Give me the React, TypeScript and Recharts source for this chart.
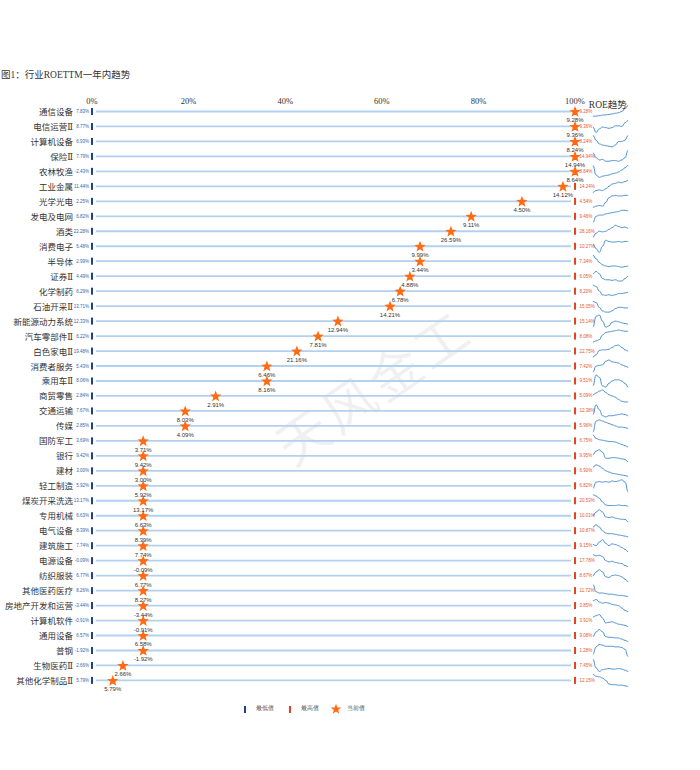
// Industry ROE TTM: one-year percentile position, min/max range and trend sparkline

import React from 'react';
import { Bar, ComposedChart, Line, XAxis, YAxis } from 'recharts';

const industries = [
  '通信设备', '电信运营Ⅱ', '计算机设备', '保险Ⅱ', '农林牧渔', '工业金属', '光学光电', '发电及电网',
  '酒类', '消费电子', '半导体', '证券Ⅱ', '化学制药', '石油开采Ⅱ', '新能源动力系统', '汽车零部件Ⅱ',
  '白色家电Ⅱ', '消费者服务', '乘用车Ⅱ', '商贸零售', '交通运输', '传媒', '国防军工', '银行', '建材',
  '轻工制造', '煤炭开采洗选', '专用机械', '电气设备', '建筑施工', '电源设备', '纺织服装', '其他医药医疗',
  '房地产开发和运营', '计算机软件', '通用设备', '普钢', '生物医药Ⅱ', '其他化学制品Ⅱ',
];

// ROE TTM within the last year (%)
const minRoe = [
  7.83, 8.77, 6.93, 7.79, -2.43, 11.44, 2.25, 6.82, 22.28, 6.48, 2.99, 4.49, 6.29, 13.71, 12.33, 6.22,
  19.48, 5.43, 8.06, 2.84, 7.67, 2.85, 3.69, 9.42, 3.0, 5.92, 13.17, 6.63, 8.39, 7.74, -0.09, 6.77, 8.26,
  -3.44, -0.91, 6.57, -1.92, 2.66, 5.79,
];
const maxRoe = [
  9.28, 9.36, 8.24, 14.94, 8.64, 14.24, 4.54, 9.46, 28.16, 10.27, 7.34, 6.05, 8.2, 15.05, 15.14, 8.08,
  22.75, 7.42, 9.51, 5.09, 12.38, 5.96, 6.75, 9.95, 6.9, 6.82, 20.53, 10.01, 10.87, 9.15, 17.78, 8.67, 11.72,
  3.85, 3.91, 9.08, 1.28, 7.45, 12.15,
];
const curRoe = [
  9.28, 9.36, 8.24, 14.94, 8.64, 14.12, 4.5, 9.11, 26.59, 9.99, 3.44, 4.88, 6.78, 14.21, 12.94, 7.81,
  21.16, 6.46, 8.16, 2.91, 8.03, 4.09, 3.71, 9.42, 3.0, 5.92, 13.17, 6.63, 8.39, 7.74, -0.09, 6.77, 8.27,
  -3.44, -0.91, 6.58, -1.92, 2.66, 5.79,
];
// percentile of the current value (0-100)
const pctRank = [
  100, 100, 100, 100, 100, 97.5, 89, 78.5, 74.3, 67.9, 67.9, 65.8, 63.8, 61.7, 50.9, 46.8, 42.4, 36.2,
  36.2, 25.6, 19.3, 19.3, 10.6, 10.6, 10.6, 10.6, 10.6, 10.6, 10.6, 10.6, 10.6, 10.6, 10.6, 10.6, 10.6,
  10.6, 10.6, 6.4, 4.3,
];

// trend shapes, scaled 0 (low) to 1 (high)
const trends = [
  [0.1, 0.12, 0.15, 0.2, 0.22, 0.25, 0.3, 0.35, 0.4, 0.5, 0.75, 1.0],
  [0.45, 0.0, 0.3, 0.45, 0.4, 0.35, 0.4, 0.55, 0.55, 0.5, 0.8, 1.0],
  [1.0, 0.6, 0.3, 0.2, 0.15, 0.1, 0.05, 0.2, 0.5, 0.5, 0.6, 1.0],
  [0.8, 0.4, 0.2, 0.25, 0.1, 0.1, 0.15, 0.15, 0.1, 0.2, 0.4, 1.0],
  [1.0, 0.2, 0.0, 0.1, 0.15, 0.2, 0.3, 0.35, 0.45, 0.6, 0.8, 1.0],
  [0.0, 0.15, 0.2, 0.15, 0.3, 0.5, 0.7, 0.75, 0.85, 0.8, 0.9, 1.0],
  [0.0, 0.1, 0.15, 0.1, 0.4, 0.8, 0.95, 1.0, 0.95, 0.95, 1.0, 1.0],
  [0.0, 0.5, 0.6, 0.6, 0.7, 0.75, 0.8, 0.85, 0.9, 1.0, 1.0, 0.95],
  [0.0, 0.35, 0.5, 0.45, 0.5, 0.65, 0.8, 1.0, 0.9, 0.8, 0.85, 0.75],
  [0.7, 0.3, 0.0, 0.5, 1.0, 0.9, 0.85, 0.85, 0.9, 0.85, 0.9, 0.9],
  [1.0, 0.7, 0.4, 0.2, 0.1, 0.05, 0.1, 0.1, 0.05, 0.0, 0.05, 0.1],
  [0.7, 0.9, 0.7, 0.3, 0.2, 0.2, 0.15, 0.2, 0.1, 0.1, 0.3, 0.5],
  [1.0, 0.9, 0.5, 0.2, 0.15, 0.2, 0.15, 0.2, 0.3, 0.3, 0.35, 0.4],
  [0.9, 0.8, 0.4, 0.1, 0.0, 0.0, 0.1, 0.3, 0.4, 0.4, 0.35, 0.35],
  [0.0, 0.9, 1.0, 0.5, 0.0, 0.1, 0.4, 0.5, 0.45, 0.35, 0.3, 0.25],
  [0.0, 0.1, 0.2, 0.6, 0.8, 0.85, 0.9, 0.95, 1.0, 0.95, 0.9, 0.9],
  [0.0, 0.2, 0.55, 0.6, 0.6, 0.65, 0.8, 0.95, 1.0, 0.8, 0.6, 0.5],
  [0.0, 0.5, 0.55, 0.6, 0.9, 1.0, 0.85, 0.8, 0.75, 0.6, 0.5, 0.4],
  [0.1, 1.0, 0.8, 0.1, 0.0, 0.3, 0.5, 0.6, 0.6, 0.5, 0.3, 0.0],
  [0.6, 0.75, 0.9, 1.0, 0.8, 0.6, 0.5, 0.4, 0.2, 0.05, 0.0, 0.0],
  [0.2, 1.0, 0.6, 0.1, 0.0, 0.1, 0.1, 0.15, 0.2, 0.25, 0.2, 0.1],
  [0.0, 0.9, 1.0, 0.9, 0.8, 0.7, 0.6, 0.5, 0.4, 0.4, 0.35, 0.3],
  [1.0, 0.7, 0.6, 0.55, 0.5, 0.45, 0.45, 0.4, 0.3, 0.2, 0.1, 0.0],
  [0.6, 0.9, 1.0, 0.8, 0.3, 0.3, 0.35, 0.35, 0.3, 0.25, 0.2, 0.0],
  [0.8, 1.0, 0.9, 0.7, 0.5, 0.4, 0.3, 0.25, 0.2, 0.15, 0.1, 0.05],
  [0.3, 0.8, 0.85, 0.8, 0.85, 0.8, 0.9, 0.85, 0.9, 1.0, 0.8, 0.0],
  [1.0, 0.9, 0.7, 0.4, 0.15, 0.1, 0.1, 0.1, 0.15, 0.1, 0.1, 0.05],
  [0.5, 0.8, 1.0, 0.8, 0.4, 0.35, 0.4, 0.3, 0.25, 0.2, 0.2, 0.0],
  [0.8, 1.0, 0.8, 0.5, 0.3, 0.25, 0.25, 0.2, 0.15, 0.1, 0.05, 0.0],
  [0.6, 0.5, 0.8, 1.0, 0.7, 0.5, 0.65, 0.6, 0.5, 0.35, 0.2, 0.0],
  [1.0, 0.9, 0.95, 0.85, 0.5, 0.4, 0.45, 0.35, 0.3, 0.25, 0.1, 0.0],
  [0.5, 0.8, 1.0, 0.8, 0.4, 0.35, 0.5, 0.55, 0.5, 0.4, 0.2, 0.0],
  [1.0, 0.4, 0.3, 0.3, 0.25, 0.2, 0.2, 0.15, 0.1, 0.1, 0.05, 0.0],
  [0.9, 1.0, 0.8, 0.7, 0.75, 0.7, 0.6, 0.55, 0.5, 0.3, 0.1, 0.0],
  [0.8, 0.9, 1.0, 0.7, 0.3, 0.35, 0.4, 0.3, 0.2, 0.15, 0.1, 0.0],
  [0.4, 0.8, 1.0, 0.8, 0.4, 0.35, 0.35, 0.3, 0.3, 0.2, 0.1, 0.0],
  [0.2, 0.8, 1.0, 0.95, 0.85, 0.85, 0.85, 0.8, 0.8, 0.75, 0.6, 0.0],
  [1.0, 0.3, 0.0, 0.15, 0.2, 0.25, 0.2, 0.2, 0.25, 0.2, 0.1, 0.0],
  [1.0, 0.85, 0.8, 0.7, 0.5, 0.2, 0.15, 0.15, 0.1, 0.1, 0.05, 0.0],
];

const headerTicks = [0, 20, 40, 60, 80, 100, 106.8];

const data = industries.map((name, i) => ({
  name,
  min: minRoe[i],
  max: maxRoe[i],
  cur: curRoe[i],
  pct: pctRank[i],
  track: 100,
  gap: 3.7,
  spark: 7.3,
  trend: trends[i],
}));

const SERIF = '"Liberation Serif", "DejaVu Serif", "Noto Sans CJK SC", serif';
const SANS = '"Liberation Sans", Arial, sans-serif';
const STAR_COLOR = '#ff6a13';
const fmt = (v: number) => `${v.toFixed(2)}%`;

function starPath(cx: number, cy: number, r: number, ri: number) {
  let d = '';
  for (let k = 0; k < 10; k++) {
    const rad = k % 2 === 0 ? r : ri;
    const a = -Math.PI / 2 + (k * Math.PI) / 5;
    d += `${k === 0 ? 'M' : 'L'}${cx + rad * Math.cos(a)},${cy + rad * Math.sin(a)}`;
  }
  return d + 'Z';
}

function HeaderTick(props: any) {
  const { x, y, payload } = props;
  const isTrend = payload.value > 100;
  return (
    <text
      x={x}
      y={isTrend ? y + 5 : y + 1.5}
      textAnchor="middle"
      fontSize={isTrend ? 9.5 : 8.5}
      fontFamily={SERIF}
      fill="#333"
    >
      {isTrend ? 'ROE趋势' : `${payload.value}%`}
    </text>
  );
}

// min tick, track line, max tick and their labels
function TrackShape(props: any) {
  const { x, y, width, height, payload } = props;
  const cy = y + height / 2;
  return (
    <g>
      <text x={x - 3} y={cy} dy={1.5} textAnchor="end" fontSize={4.5} fontFamily={SANS} fill="#3b5ea8">
        {fmt(payload.min)}
      </text>
      <rect x={x - 1} y={cy - 3.5} width={2} height={7} fill="#1f3f8f" />
      <line x1={x + 4} x2={x + width - 4} y1={cy} y2={cy} stroke="#b3d1ef" strokeWidth={1.8} />
      <rect x={x + width - 1} y={cy - 3.5} width={2} height={7} fill="#e2421f" />
      <text x={x + width + 4.5} y={cy} dy={1.5} fontSize={4.5} fontFamily={SANS} fill="#e2553a">
        {fmt(payload.max)}
      </text>
    </g>
  );
}

function SparkShape(props: any) {
  const { x, y, width, height, payload } = props;
  const t: number[] = payload.trend;
  const n = t.length;
  const pts = t.map((v, i) => [x + (i * width) / (n - 1), y + height * (1 - v)]);
  let d = `M${pts[0][0]},${pts[0][1]}`;
  for (let i = 1; i < n; i++) {
    const [x0, y0] = pts[i - 1];
    const [x1, y1] = pts[i];
    const mx = (x0 + x1) / 2;
    d += ` C${mx},${y0} ${mx},${y1} ${x1},${y1}`;
  }
  return <path d={d} fill="none" stroke="#4a8fd0" strokeWidth={1} />;
}

function StarDot(props: any) {
  const { cx, cy, index } = props;
  if (cx == null || cy == null) return <g key={`s-${index}`} />;
  return <path key={`s-${index}`} d={starPath(cx, cy, 6, 2.5)} fill={STAR_COLOR} />;
}

function CurLabel(props: any) {
  const { cx, cy, payload, index } = props;
  if (cx == null || cy == null) return <g key={`l-${index}`} />;
  return (
    <text key={`l-${index}`} x={cx} y={cy + 10.5} textAnchor="middle" fontSize={6} fontFamily={SANS} fill="#333">
      {fmt(payload.cur)}
    </text>
  );
}

function LegendRow() {
  const txt: React.CSSProperties = { position: 'absolute', top: 705, fontSize: 5.5, color: '#555', fontFamily: SANS };
  return (
    <>
      <div style={{ position: 'absolute', left: 244, top: 706, width: 2, height: 7, background: '#1f3f8f' }} />
      <div style={{ ...txt, left: 256 }}>最低值</div>
      <div style={{ position: 'absolute', left: 289, top: 706, width: 2, height: 7, background: '#e2421f' }} />
      <div style={{ ...txt, left: 301 }}>最高值</div>
      <svg style={{ position: 'absolute', left: 330, top: 703 }} width={12} height={12}>
        <path d={starPath(6, 6.3, 5.5, 2.3)} fill={STAR_COLOR} />
      </svg>
      <div style={{ ...txt, left: 347 }}>当前值</div>
    </>
  );
}

export default function App() {
  return (
    <div style={{ position: 'absolute', left: 0, top: 0, width: 700, height: 770, background: '#fff', overflow: 'hidden' }}>
      <div style={{ position: 'absolute', left: 1, top: 67, fontSize: 9.5, fontFamily: SERIF, color: '#333' }}>
        图1：行业ROETTM一年内趋势
      </div>
      <div
        style={{
          position: 'absolute',
          left: 372,
          top: 385,
          transform: 'translate(-50%, -50%) rotate(-35deg)',
          fontSize: 52,
          fontFamily: SERIF,
          color: 'rgba(0,0,0,0.06)',
          whiteSpace: 'nowrap',
          letterSpacing: 4,
        }}
      >
        天风金工
      </div>
      <div style={{ position: 'absolute', left: 0, top: 0 }}>
        <ComposedChart
          width={700}
          height={770}
          data={data}
          layout="vertical"
          barSize={12}
          margin={{ top: 84.5, right: 67, bottom: 81.6, left: 0 }}
        >
          <XAxis
            type="number"
            orientation="top"
            domain={[0, 112]}
            ticks={headerTicks}
            height={20}
            axisLine={false}
            tickLine={false}
            tickSize={0}
            tick={<HeaderTick />}
            interval={0}
          />
          <YAxis
            type="category"
            dataKey="name"
            width={92}
            axisLine={false}
            tickLine={false}
            tickSize={0}
            tickMargin={19}
            interval={0}
            tick={{ fontSize: 8.5, fill: '#333', fontFamily: SERIF }}
          />
          <Bar dataKey="track" stackId="row" shape={<TrackShape />} isAnimationActive={false} />
          <Bar dataKey="gap" stackId="row" fill="none" isAnimationActive={false} />
          <Bar dataKey="spark" stackId="row" shape={<SparkShape />} isAnimationActive={false} />
          <Line
            dataKey="pct"
            stroke="none"
            dot={(p: any) => <StarDot {...p} />}
            activeDot={false}
            isAnimationActive={false}
          />
          <Line
            dataKey="pct"
            stroke="none"
            dot={(p: any) => <CurLabel {...p} />}
            activeDot={false}
            isAnimationActive={false}
          />
        </ComposedChart>
      </div>
      <LegendRow />
    </div>
  );
}
